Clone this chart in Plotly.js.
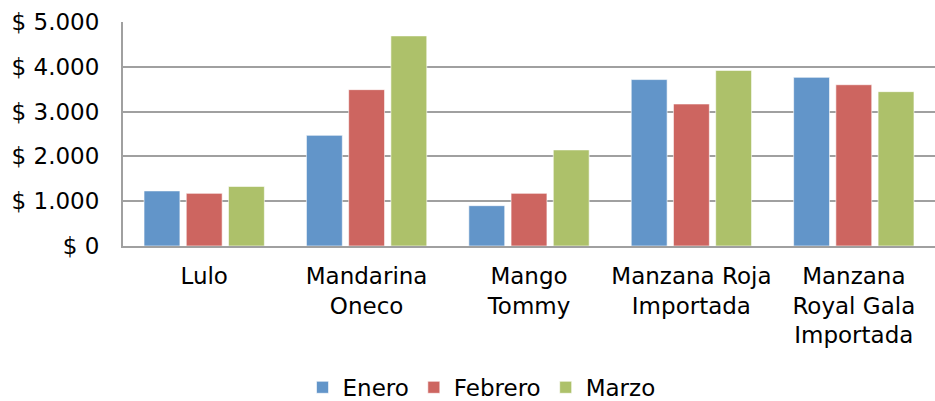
<!DOCTYPE html>
<html><head><meta charset="utf-8">
<script src="https://cdn.plot.ly/plotly-3.0.1.min.js"></script>
<style>html,body{margin:0;padding:0;background:#fff}#chart{width:935px;height:401px}</style>
</head><body><div id="chart"></div>
<script>
const categories = ["Lulo", "Mandarina<br>Oneco", "Mango<br>Tommy", "Manzana Roja<br>Importada", "Manzana<br>Royal Gala<br>Importada"];
const enero = [1230, 2470, 900, 3715, 3765];
const febrero = [1175, 3490, 1175, 3170, 3600];
const marzo = [1330, 4690, 2145, 3920, 3445];
const tickVals = [0, 1000, 2000, 3000, 4000, 5000];
const tickText = ["$ 0", "$ 1.000", "$ 2.000", "$ 3.000", "$ 4.000", "$ 5.000"];

const font = {family: "Verdana, 'DejaVu Sans', sans-serif", size: 23, color: "#000"};
const mk = (name, y, color) => ({type: "bar", name, x: categories, y,
  marker: {color, line: {color: "rgba(255,255,255,0.6)", width: 1}}});
const data = [
  mk("Enero", enero, "#6295C9"),
  mk("Febrero", febrero, "#CD6560"),
  mk("Marzo", marzo, "#ADC16A")
];
const layout = {
  width: 935, height: 401,
  margin: {l: 123, r: 0, t: 22, b: 155, autoexpand: false},
  paper_bgcolor: "#fff", plot_bgcolor: "#fff",
  font,
  barmode: "group", bargap: 0.22, bargroupgap: 0.15,
  showlegend: true,
  legend: {orientation: "h", x: 0.515, xanchor: "center", xref: "container",
           y: -0.535, yanchor: "top", yref: "paper", font, itemwidth: 20},
  xaxis: {type: "category", showline: true, linecolor: "#A0A0A0", linewidth: 2,
          ticks: "outside", ticklen: 8, tickcolor: "rgba(0,0,0,0)",
          showgrid: false, tickfont: font, automargin: false},
  yaxis: {range: [0, 5000], tickvals: tickVals, ticktext: tickText, showline: true,
          linecolor: "#A0A0A0", linewidth: 2, showgrid: true, gridcolor: "#A0A0A0",
          gridwidth: 2, zeroline: false, ticks: "outside", ticklen: 17, tickcolor: "rgba(0,0,0,0)",
          tickfont: font, automargin: false}
};
Plotly.newPlot("chart", data, layout, {displayModeBar: false, staticPlot: true});
</script></body></html>
